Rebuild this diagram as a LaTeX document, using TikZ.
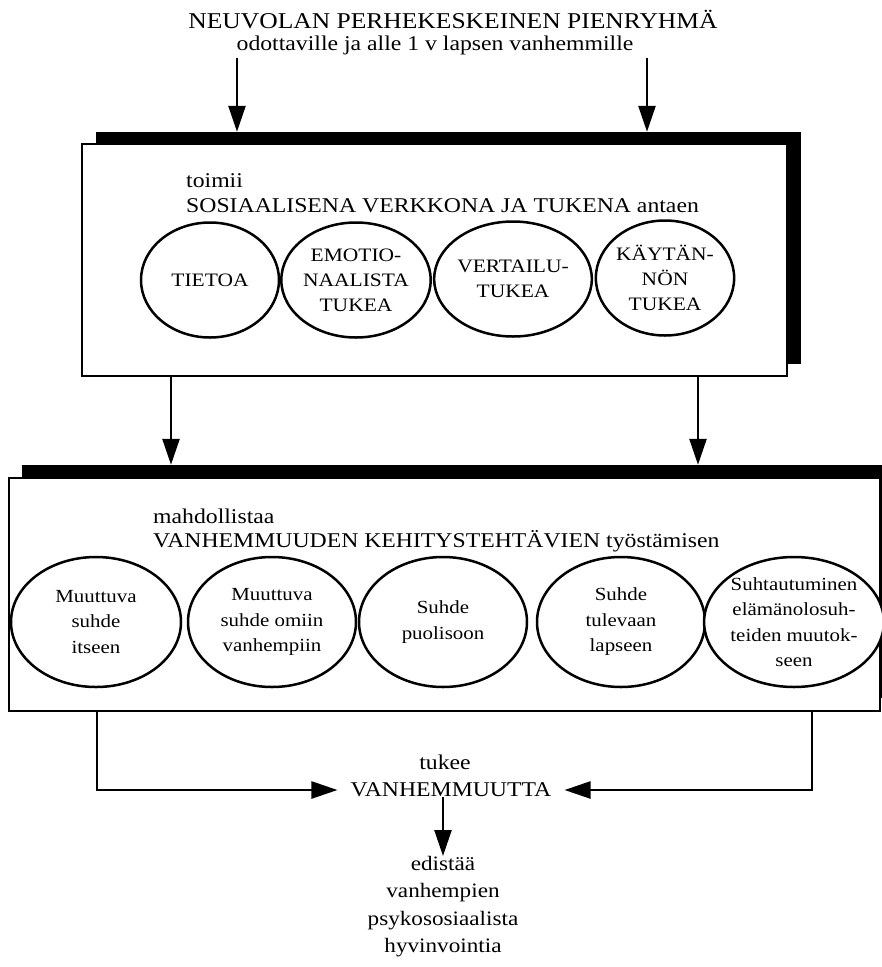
\documentclass[tikz,border=0pt]{standalone}
\usepackage{fontspec}
\setmainfont{Liberation Serif}[FakeStretch=1.13]
\usetikzlibrary{shapes.geometric,arrows.meta}

\newlength{\du}
\setlength{\du}{1\unitlength}

\newcommand{\otsikkofont}{\fontsize{22.6}{26}\selectfont}
\newcommand{\isofont}{\fontsize{21}{25}\selectfont}
\newcommand{\kuplafont}{\fontsize{19}{25}\selectfont}
\newcommand{\pienifont}{\fontsize{18.5}{25.5}\selectfont}
\newcommand{\alafont}{\fontsize{20.5}{27.5}\selectfont}

\tikzset{
  kehys/.style={draw=black, fill=white, line width=2.5\du, inner sep=0pt},
  varjo/.style={fill=black, inner sep=0pt},
  kupla/.style={ellipse, draw=black, fill=white, line width=2.5\du, inner sep=0pt, align=center, font=\kuplafont},
  kupla2/.style={kupla, font=\pienifont},
  nuoli/.style={line width=2.5\du, -{Triangle[length=26pt,width=17pt]}},
  teksti/.style={inner sep=0pt, align=center},
}

\begin{document}
\begin{tikzpicture}
\pgftransformxscale{1.000000}
\pgftransformyscale{-1.000000}
\useasboundingbox (0\du,0\du) rectangle (882\du,967\du);
% otsikko
\node[teksti, anchor=base] (otsikko) at (453\du,28\du){\otsikkofont NEUVOLAN PERHEKESKEINEN PIENRYHMÄ};
\node[teksti, anchor=base] (kohde) at (435\du,50\du){\isofont odottaville ja alle 1 v lapsen vanhemmille};
% laatikko 1
\node[varjo, minimum width=705\du, minimum height=232\du] (varjo1) at (448\du,248\du){};
\node[kehys, minimum width=705\du, minimum height=232\du] (verkko) at (434.5\du,260\du){};
\node[teksti, anchor=base west] (toimii) at (186\du,187\du){\isofont toimii};
\node[teksti, anchor=base west] (sosiaalinen) at (186\du,212\du){\isofont SOSIAALISENA VERKKONA JA TUKENA antaen};
\node[kupla, minimum width=138\du, minimum height=115\du] (tieto) at (210\du,280\du){TIETOA};
\node[kupla, minimum width=134\du, minimum height=115\du] (emotio) at (356\du,280\du){EMOTIO-\\NAALISTA\\TUKEA};
\node[kupla, minimum width=132\du, minimum height=115\du] (vertailu) at (513\du,279\du){VERTAILU-\\TUKEA};
\node[kupla, minimum width=132\du, minimum height=115\du] (kaytanto) at (665\du,278\du){KÄYTÄN-\\NÖN\\TUKEA};
% laatikko 2
\node[varjo, minimum width=871\du, minimum height=233\du] (varjo2) at (457\du,581.5\du){};
\node[kehys, minimum width=871\du, minimum height=233\du] (kehitys) at (444.5\du,594.5\du){};
\node[teksti, anchor=base west] (mahdollistaa) at (153\du,523\du){\isofont mahdollistaa};
\node[teksti, anchor=base west] (tehtavat) at (153\du,547\du){\isofont VANHEMMUUDEN KEHITYSTEHTÄVIEN työstämisen};
\node[kupla2, minimum width=170\du, minimum height=130\du] (itse) at (96\du,622\du){Muuttuva\\suhde\\itseen};
\node[kupla2, minimum width=168\du, minimum height=130\du] (vanhemmat) at (272\du,622\du){Muuttuva\\suhde omiin\\vanhempiin};
\node[kupla2, minimum width=168\du, minimum height=130\du] (puoliso) at (443\du,622\du){Suhde\\puolisoon};
\node[kupla2, minimum width=168\du, minimum height=130\du] (lapsi) at (621\du,622\du){Suhde\\tulevaan\\lapseen};
\node[kupla2, minimum width=168\du, minimum height=130\du] (muutos) at (794\du,622\du){Suhtautuminen\\elämänolosuh-\\teiden muutok-\\seen};
% alaosa
\node[teksti, font=\isofont] (tukee) at (445\du,762\du){tukee};
\node[teksti, font=\isofont, inner xsep=13\du] (vanhemmuus) at (451\du,790\du){VANHEMMUUTTA};
\node[teksti, font=\alafont, anchor=north] (edistaa) at (443\du,856\du){edistää\\vanhempien\\psykososiaalista\\hyvinvointia};
% nuolet
\coordinate (a1) at (237\du,58\du);
\coordinate (a2) at (647\du,58\du);
\coordinate (b1) at (171\du,0\du);
\coordinate (b2) at (698\du,0\du);
\coordinate (c1) at (97\du,0\du);
\coordinate (c2) at (812\du,0\du);
\draw[nuoli] (a1) -- (a1 |- varjo1.north);
\draw[nuoli] (a2) -- (a2 |- varjo1.north);
\draw[nuoli] (verkko.south -| b1) -- (varjo2.north -| b1);
\draw[nuoli] (verkko.south -| b2) -- (varjo2.north -| b2);
\draw[nuoli] (kehitys.south -| c1) |- (vanhemmuus.west);
\draw[nuoli] (kehitys.south -| c2) |- (vanhemmuus.east);
\draw[nuoli] (vanhemmuus.south -| edistaa.north) -- (edistaa.north);
\end{tikzpicture}
\end{document}
